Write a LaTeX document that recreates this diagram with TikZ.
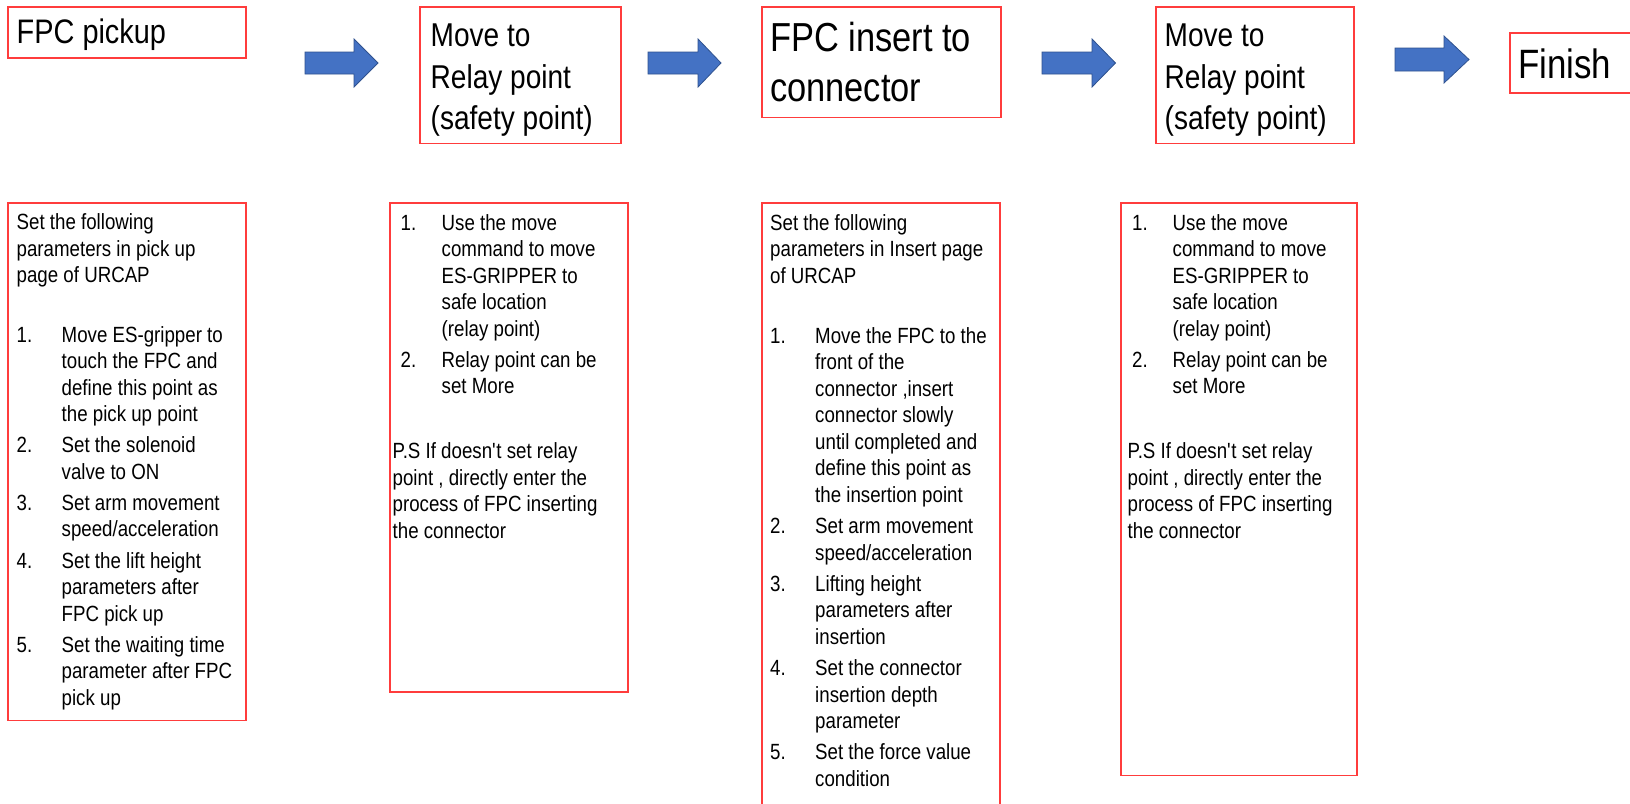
\documentclass[tikz,border=0pt]{standalone}
\usepackage{fontspec}
\setmainfont{Liberation Sans}[FakeStretch=0.85]
\definecolor{boxred}{RGB}{255,60,60}
\definecolor{arrfill}{RGB}{68,114,196}
\definecolor{arrline}{RGB}{47,82,143}
\newlength{\itmw}\setlength{\itmw}{45pt}
\newcommand{\itm}[1]{\makebox[\itmw][l]{#1}}
\newcommand{\itmo}[1]{\hspace*{4.5pt}\makebox[40.5pt][l]{#1}}
\newcommand{\itmp}[1]{\hspace*{8pt}\makebox[41pt][l]{#1}}
\newcommand{\ind}{\hspace*{\itmw}}
\newcommand{\indp}{\hspace*{49pt}}
\begin{document}
\begin{tikzpicture}[x=1pt,y=-1pt,
  redbox/.style={draw=boxred, line width=1.3pt, inner sep=0pt, outer sep=0pt, anchor=north west, rectangle},
  blockarr/.style={fill=arrfill, draw=arrline, line width=0.8pt, line join=miter},
  bodytxt/.style={font=\fontsize{22}{26.5}\selectfont, align=left, inner sep=0pt, anchor=north west},
  ttlA/.style={font=\fontsize{34}{40.8}\selectfont, align=left, inner sep=0pt, anchor=north west},
  ttlB/.style={font=\fontsize{33}{41.6}\selectfont, align=left, inner sep=0pt, anchor=north west},
  ttlC/.style={font=\fontsize{40.5}{49.5}\selectfont, align=left, inner sep=0pt, anchor=north west},
  ttlD/.style={font=\fontsize{41}{48}\selectfont, align=left, inner sep=0pt, anchor=north west}]
\clip (0,0) rectangle (1630,803);
\fill[white] (0,0) rectangle (1630,803);

% top boxes
\node[redbox, minimum width=238pt, minimum height=51pt] (b1) at (8,7) {};
\node[redbox, minimum width=201pt, minimum height=136.5pt] (b2) at (420,7) {};
\node[redbox, minimum width=239pt, minimum height=110.5pt] (b3) at (762,7) {};
\node[redbox, minimum width=198pt, minimum height=136.5pt] (b4) at (1156,7) {};
\node[redbox, minimum width=122pt, minimum height=60pt] (b5) at (1510,33) {};

\node[ttlA] (t1) at (16.5,15.1) {\strut FPC pickup};
\node[ttlB] (t2) at (430.5,17.4) {\strut Move to\\Relay point\\(safety point)};
\node[ttlC] (t3) at (770,16.7) {\strut FPC insert to\\connector};
\node[ttlB] (t4) at (1164.5,17.4) {\strut Move to\\Relay point\\(safety point)};
\node[ttlD] (t5) at (1518,44.3) {\strut Finish};

% block arrows
\path[blockarr] (305,52) -- (354,52) -- (354,39) -- (378,63) -- (354,87) -- (354,74) -- (305,74) -- cycle;
\path[blockarr] (648,52) -- (698,52) -- (698,39) -- (721,63) -- (698,87) -- (698,74) -- (648,74) -- cycle;
\path[blockarr] (1042,52) -- (1092,52) -- (1092,39) -- (1115.5,63) -- (1092,87) -- (1092,74) -- (1042,74) -- cycle;
\path[blockarr] (1395,48) -- (1444,48) -- (1444,36) -- (1469,59.5) -- (1444,83) -- (1444,71) -- (1395,71) -- cycle;

% bottom boxes
\node[redbox, minimum width=238pt, minimum height=517.5pt] (c1) at (8,203) {};
\node[redbox, minimum width=238pt, minimum height=489pt] (c2) at (390,203) {};
\node[redbox, minimum width=238pt, minimum height=620pt] (c3) at (762,203) {};
\node[redbox, minimum width=236pt, minimum height=572.5pt] (c4) at (1121,203) {};

\node[bodytxt] (d1) at (16.5,211) {\strut Set the following\\
parameters in pick up\\
page of URCAP\\[32.8pt]
\itm{1.}Move ES-gripper to\\
\ind touch the FPC and\\
\ind define this point as\\
\ind the pick up point\\[4.7pt]
\itm{2.}Set the solenoid\\
\ind valve to ON\\[4.7pt]
\itm{3.}Set arm movement\\
\ind speed/acceleration\\[4.7pt]
\itm{4.}Set the lift height\\
\ind parameters after\\
\ind FPC pick up\\[4.7pt]
\itm{5.}Set the waiting time\\
\ind parameter after FPC\\
\ind pick up};

\node[bodytxt] (d2) at (392.5,211.4) {\strut\itmp{1.}Use the move\\
\indp command to move\\
\indp ES-GRIPPER to\\
\indp safe location\\
\indp (relay point)\\[4.7pt]
\itmp{2.}Relay point can be\\
\indp set More\\[38.5pt]
P.S If doesn\textquotesingle t set relay\\
point , directly enter the\\
process of FPC inserting\\
the connector};

\node[bodytxt] (d3) at (770,211.4) {\strut Set the following\\
parameters in Insert page\\
of URCAP\\[33.8pt]
\itm{1.}Move the FPC to the\\
\ind front of the\\
\ind connector ,insert\\
\ind connector slowly\\
\ind until completed and\\
\ind define this point as\\
\ind the insertion point\\[4.7pt]
\itm{2.}Set arm movement\\
\ind speed/acceleration\\[4.7pt]
\itm{3.}Lifting height\\
\ind parameters after\\
\ind insertion\\[4.7pt]
\itm{4.}Set the connector\\
\ind insertion depth\\
\ind parameter\\[4.7pt]
\itm{5.}Set the force value\\
\ind condition};

\node[bodytxt] (d4) at (1127.5,211.4) {\strut\itmo{1.}Use the move\\
\ind command to move\\
\ind ES-GRIPPER to\\
\ind safe location\\
\ind (relay point)\\[4.7pt]
\itmo{2.}Relay point can be\\
\ind set More\\[38.5pt]
P.S If doesn\textquotesingle t set relay\\
point , directly enter the\\
process of FPC inserting\\
the connector};
\end{tikzpicture}
\end{document}
